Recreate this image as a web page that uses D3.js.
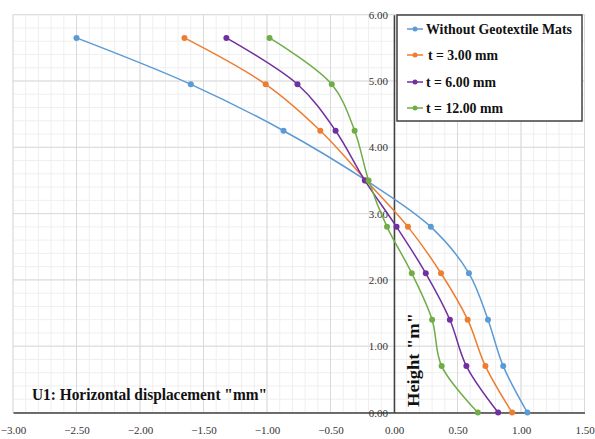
<!DOCTYPE html>
<html><head><meta charset="utf-8">
<script src="https://cdn.jsdelivr.net/npm/d3@7/dist/d3.min.js"></script>
<style>
html,body{margin:0;padding:0;background:#fff;}
svg{display:block;}
text{font-family:"Liberation Serif","DejaVu Serif",serif;}
</style></head>
<body>
<svg id="c" width="595" height="439"></svg>
<script>
const heights = [0, 0.7, 1.4, 2.1, 2.8, 3.5, 4.25, 4.95, 5.65];
const seriesNames = ["Without Geotextile Mats", "t = 3.00 mm", "t = 6.00 mm", "t = 12.00 mm"];
const seriesColors = ["#5B9BD5", "#ED7D31", "#7030A0", "#70AD47"];
const noMats = [1.05, 0.86, 0.74, 0.59, 0.29, -0.22, -0.87, -1.60, -2.50];
const t3 = [0.93, 0.72, 0.58, 0.37, 0.11, -0.22, -0.58, -1.01, -1.65];
const t6 = [0.82, 0.57, 0.44, 0.25, 0.02, -0.23, -0.46, -0.76, -1.32];
const t12 = [0.66, 0.375, 0.30, 0.14, -0.055, -0.20, -0.31, -0.49, -0.98];
const xTicks = [-3, -2.5, -2, -1.5, -1, -0.5, 0, 0.5, 1, 1.5];
const yTicks = [0, 1, 2, 3, 4, 5, 6];
const xTitle = "U1: Horizontal displacement \"mm\"";
const yTitle = "Height \"m\"";

const allSeries = [noMats, t3, t6, t12];
const svg = d3.select("#c");
const x = d3.scaleLinear().domain([-3, 1.5]).range([13, 584.5]);
const y = d3.scaleLinear().domain([0, 6]).range([412.5, 14.7]);
const fmt = d3.format(".2f");

// minor grid
const xMinor = d3.range(-3, 1.5001, 0.1);
const yMinor = d3.range(0, 6.0001, 0.2);
const grid = svg.append("g");
grid.selectAll(".xm").data(xMinor).enter().append("line")
  .attr("x1", d => x(d)).attr("x2", d => x(d)).attr("y1", y(0)).attr("y2", y(6))
  .attr("stroke", "#efefef").attr("stroke-width", 1);
grid.selectAll(".ym").data(yMinor).enter().append("line")
  .attr("x1", x(-3)).attr("x2", x(1.5)).attr("y1", d => y(d)).attr("y2", d => y(d))
  .attr("stroke", "#efefef").attr("stroke-width", 1);
// major grid
grid.selectAll(".xM").data(xTicks).enter().append("line")
  .attr("x1", d => x(d)).attr("x2", d => x(d)).attr("y1", y(0)).attr("y2", y(6))
  .attr("stroke", "#d9d9d9").attr("stroke-width", 1);
grid.selectAll(".yM").data(yTicks).enter().append("line")
  .attr("x1", x(-3)).attr("x2", x(1.5)).attr("y1", d => y(d)).attr("y2", d => y(d))
  .attr("stroke", "#d9d9d9").attr("stroke-width", 1);

// axes
const xAxis = svg.append("g").attr("transform", `translate(0,${y(0)})`)
  .call(d3.axisBottom(x).tickValues(xTicks).tickFormat(fmt).tickSize(0).tickPadding(14));
xAxis.select(".domain").attr("stroke", "#404040").attr("stroke-width", 1.5);
xAxis.selectAll("text").attr("font-size", 11).attr("fill", "#333")
  .attr("font-family", "Liberation Serif, serif");

const yAxis = svg.append("g").attr("transform", `translate(${x(0)},0)`)
  .call(d3.axisLeft(y).tickValues(yTicks).tickFormat(fmt).tickSize(0).tickPadding(6));
yAxis.select(".domain").attr("stroke", "#404040").attr("stroke-width", 1.5);
yAxis.selectAll("text").attr("font-size", 11).attr("fill", "#333")
  .attr("font-family", "Liberation Serif, serif");

// series
const line = d3.line().x(d => x(d[0])).y(d => y(d[1])).curve(d3.curveCatmullRom.alpha(0.5));
allSeries.forEach((s, i) => {
  const pts = s.map((v, j) => [v, heights[j]]);
  svg.append("path").datum(pts).attr("d", line).attr("fill", "none")
    .attr("stroke", seriesColors[i]).attr("stroke-width", 1.5);
  svg.append("g").selectAll("circle").data(pts).enter().append("circle")
    .attr("cx", d => x(d[0])).attr("cy", d => y(d[1])).attr("r", 3)
    .attr("fill", seriesColors[i]);
});

// legend
const lg = svg.append("g");
lg.append("rect").attr("x", 397).attr("y", 15).attr("width", 185).attr("height", 106)
  .attr("fill", "#fff").attr("stroke", "#404040").attr("stroke-width", 1.5);
const rowY = [29, 55, 82, 108];
const txtLen = [146, 70, 70, 77];
const txtX = [426, 428, 426, 426];
seriesNames.forEach((n, i) => {
  lg.append("line").attr("x1", 407).attr("x2", 423).attr("y1", rowY[i]).attr("y2", rowY[i])
    .attr("stroke", seriesColors[i]).attr("stroke-width", 1.5);
  lg.append("circle").attr("cx", 415).attr("cy", rowY[i]).attr("r", 2.5).attr("fill", seriesColors[i]);
  lg.append("text").attr("x", txtX[i]).attr("y", rowY[i] + 5).text(n)
    .attr("font-size", 15).attr("font-weight", "bold").attr("fill", "#111")
    .attr("textLength", txtLen[i]).attr("lengthAdjust", "spacingAndGlyphs");
});

// axis titles
svg.append("text").attr("x", 32).attr("y", 400).text(xTitle)
  .attr("font-size", 17).attr("font-weight", "bold").attr("fill", "#111")
  .attr("textLength", 235).attr("lengthAdjust", "spacingAndGlyphs");
svg.append("text").attr("transform", "translate(419,407) rotate(-90)").text(yTitle)
  .attr("font-size", 16).attr("font-weight", "bold").attr("fill", "#111")
  .attr("textLength", 94).attr("lengthAdjust", "spacingAndGlyphs");
</script>
</body></html>
